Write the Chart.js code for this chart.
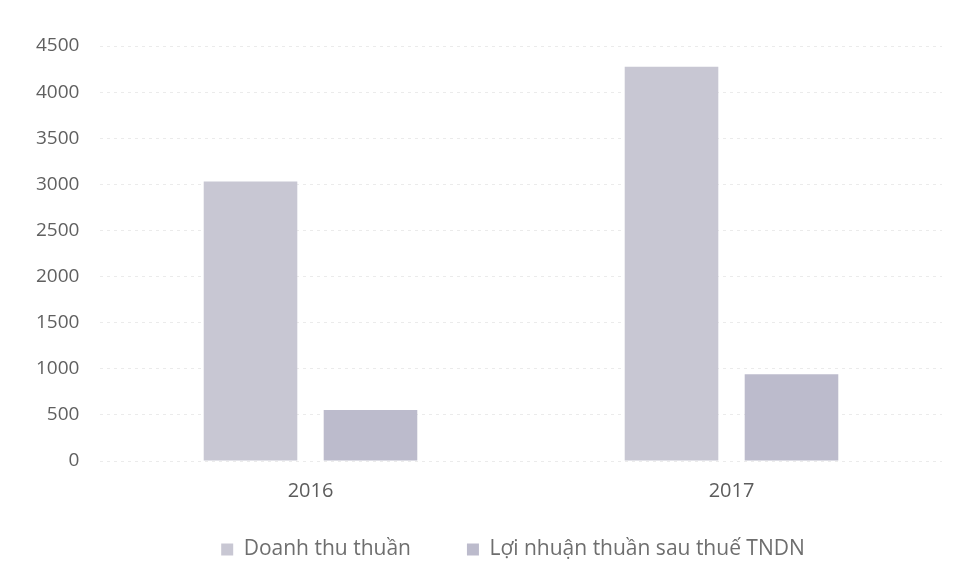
<!DOCTYPE html>
<html>
<head>
<meta charset="utf-8">
<script src="https://cdn.jsdelivr.net/npm/chart.js@4.4.0/dist/chart.umd.min.js"></script>
<style>
  html, body { margin: 0; padding: 0; background: #fff; }
  #wrap { width: 962px; height: 588px; }
</style>
</head>
<body>
<div id="wrap"><canvas id="chart" width="962" height="588"></canvas></div>
<script>
  const years = ["2016", "2017"];
  const doanhThu = [3030, 4275];
  const loiNhuan = [552, 942];
  const yTicks = [0, 500, 1000, 1500, 2000, 2500, 3000, 3500, 4000, 4500];

  const font = '"Open Sans", sans-serif';

  const ctx = document.getElementById("chart").getContext("2d");
  new Chart(ctx, {
    type: 'bar',
    data: {
      labels: years,
      datasets: [{
        label: 'Doanh thu thuần',
        data: doanhThu,
        backgroundColor: '#c8c7d3'
      }, {
        label: 'Lợi nhuận thuần sau thuế TNDN',
        data: loiNhuan,
        backgroundColor: '#bcbbcc'
      }]
    },
    options: {
      responsive: false,
      animation: false,
      categoryPercentage: 0.57,
      barPercentage: 0.78,
      layout: { padding: { top: 46, right: 20, left: 84, bottom: 18 } },
      plugins: {
        legend: {
          position: 'bottom',
          labels: {
            font: { family: font, size: 21 },
            color: '#6e6e6e',
            boxWidth: 12,
            boxHeight: 12,
            padding: 56
          }
        },
        tooltip: { enabled: false }
      },
      scales: {
        x: {
          grid: { display: false },
          border: { display: false },
          // labels are mirrored so they are not clipped by the short axis box
          afterFit: scale => { scale.height = 22; },
          ticks: {
            font: { family: font, size: 20 },
            color: '#5c5c5c',
            mirror: true,
            padding: -42
          }
        },
        y: {
          min: 0,
          max: 4500,
          afterBuildTicks: axis => { axis.ticks = yTicks.map(v => ({ value: v })); },
          afterFit: scale => { scale.width = 16; },
          grid: { color: '#ebebeb', lineWidth: 1, drawTicks: false },
          border: { display: false, dash: [3, 4] },
          ticks: {
            font: { family: font, size: 19 },
            color: '#606060',
            mirror: true,
            crossAlign: 'far',
            padding: -64,
            callback: v => String(v)
          }
        }
      }
    }
  });
</script>
</body>
</html>
